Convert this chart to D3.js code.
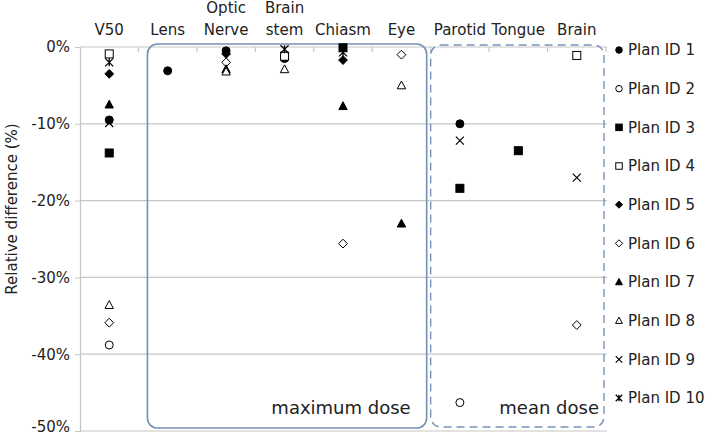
<!DOCTYPE html>
<meta charset="utf-8">
<script src="https://d3js.org/d3.v7.min.js"></script>
<style>
  body { margin: 0; background: #fff; }
  text { font-family: "DejaVu Sans", Verdana, sans-serif; fill: #222; }
</style>
<div id="my_dataviz"></div>
<script>

  // categories along the top
  var categories = ["V50", "Lens", "Optic Nerve", "Brain stem", "Chiasm", "Eye", "Parotid", "Tongue", "Brain"];
  var plans = ["Plan ID 1", "Plan ID 2", "Plan ID 3", "Plan ID 4", "Plan ID 5",
               "Plan ID 6", "Plan ID 7", "Plan ID 8", "Plan ID 9", "Plan ID 10"];
  var yTicks = [0, -0.1, -0.2, -0.3, -0.4, -0.5];

  // relative difference (%) per plan, one value per category (null = no point)
  //            V50    Lens  Optic  Bstem  Chiasm  Eye    Parot  Tong   Brain
  var plan1  = [-9.5, -3.1, -0.5,  -1.5,  null,   null,  -10.0, null,  null];
  var plan2  = [-38.8, null, null,  null,  null,   null,  -46.3, null,  null];
  var plan3  = [-13.8, null, null,  null,  -0.1,   null,  -18.4, -13.5, null];
  var plan4  = [-0.9, null,  null,  -1.2,  null,   null,  null,  null,  -1.1];
  var plan5  = [-3.5, null,  -0.9,  null,  -1.7,   null,  null,  null,  null];
  var plan6  = [-35.9, null, -2.0,  null,  -25.6,  -1.0,  null,  null,  -36.2];
  var plan7  = [-7.5, null,  -2.9,  null,  -7.7,   -23.0, null,  null,  null];
  var plan8  = [-33.6, null, -3.2,  -2.9,  null,   -5.0,  null,  null,  null];
  var plan9  = [-9.9, null,  null,  null,  null,   null,  -12.2, null,  -17.0];
  var plan10 = [-2.0, null,  null,  -0.3,  -0.7,   null,  null,  null,  null];
  var planValues = [plan1, plan2, plan3, plan4, plan5, plan6, plan7, plan8, plan9, plan10];

  // marker style per plan
  var shapes = ["circle", "circle", "square", "square", "diamond", "diamond", "triangle", "triangle", "cross", "star"];
  var filled = [true, false, true, false, true, false, true, false, true, true];

  var W = 709, H = 436;
  var svg = d3.select("#my_dataviz").append("svg")
    .attr("width", W).attr("height", H);

  var x = d3.scaleBand().domain(categories).range([80, 606]);
  var y = d3.scaleLinear().domain([-0.5, 0]).range([431, 47]);

  // gridlines
  svg.append("g").selectAll("line").data(yTicks).enter().append("line")
    .attr("x1", 80).attr("x2", 607)
    .attr("y1", function (d) { return y(d); }).attr("y2", function (d) { return y(d); })
    .attr("stroke", "#c6c6c6").attr("stroke-width", 1.2);

  // y axis (plain hyphen minus, like the original)
  var yAxis = svg.append("g").attr("transform", "translate(80,0)")
    .call(d3.axisLeft(y).tickValues(yTicks)
      .tickFormat(function (d) { return Math.round(d * 100) + "%"; })
      .tickSize(5).tickPadding(5));
  yAxis.select(".domain").attr("stroke", "#c6c6c6").attr("stroke-width", 1.2);
  yAxis.selectAll(".tick line").attr("stroke", "#c6c6c6");
  yAxis.selectAll("text").attr("font-size", 15).attr("fill", "#222")
    .attr("font-family", "DejaVu Sans");
  // keep the bottom label inside the picture
  yAxis.selectAll(".tick text").filter(function (d) { return d === -0.5; }).attr("dy", "0.05em");

  svg.append("text")
    .attr("transform", "translate(17," + ((y(0) + y(-0.5)) / 2 - 30) + ") rotate(-90)")
    .attr("text-anchor", "middle").attr("font-size", 15)
    .text("Relative difference (%)");

  // top category ticks (band boundaries) hanging from the 0% line
  var bounds = categories.slice(1).map(function (c) { return x(c); }).concat([x.range()[1]]);
  svg.append("g").selectAll("line").data(bounds).enter().append("line")
    .attr("x1", function (d) { return d; }).attr("x2", function (d) { return d; })
    .attr("y1", y(0)).attr("y2", y(0) + 5)
    .attr("stroke", "#c6c6c6").attr("stroke-width", 1.2);

  // category labels
  var lab = svg.append("g").selectAll("text").data(categories).enter().append("text")
    .attr("x", function (d) { return x(d) + x.bandwidth() / 2; })
    .attr("text-anchor", "middle").attr("font-size", 15);
  lab.each(function (d) {
    var parts = d.split(" ");
    var t = d3.select(this);
    if (parts.length === 1) {
      t.append("tspan").attr("x", x(d) + x.bandwidth() / 2).attr("y", 35).text(d);
    } else {
      t.append("tspan").attr("x", x(d) + x.bandwidth() / 2).attr("y", 13).text(parts[0]);
      t.append("tspan").attr("x", x(d) + x.bandwidth() / 2).attr("y", 35).text(parts[1]);
    }
  });

  // group boxes
  var maxL = x("Lens") + 9, maxR = x("Eye") + x.bandwidth() - 4;
  svg.append("rect")
    .attr("x", maxL).attr("y", 44).attr("width", maxR - maxL).attr("height", 384)
    .attr("rx", 10).attr("fill", "none").attr("stroke", "#7590b2").attr("stroke-width", 1.6);
  var meanL = x("Parotid"), meanR = x("Brain") + x.bandwidth() - 2;
  svg.append("rect")
    .attr("x", meanL).attr("y", 45).attr("width", meanR - meanL).attr("height", 382)
    .attr("rx", 10).attr("fill", "none").attr("stroke", "#7894b8").attr("stroke-width", 1.4)
    .attr("stroke-dasharray", "8,5");
  svg.append("text").attr("x", maxR - 16).attr("y", 414).attr("text-anchor", "end")
    .attr("font-size", 18).text("maximum dose");
  svg.append("text").attr("x", meanR - 5).attr("y", 414).attr("text-anchor", "end")
    .attr("font-size", 18).text("mean dose");

  // marker drawing
  function marker(g, i, s) {
    var shape = shapes[i], fill = filled[i] ? "#000" : "#fff";
    var r = s / 2, el;
    var xPath = "M" + (-r) + "," + (-r) + "L" + r + "," + r + "M" + r + "," + (-r) + "L" + (-r) + "," + r;
    if (shape === "circle") {
      el = g.append("circle").attr("r", r);
    } else if (shape === "square") {
      el = g.append("rect").attr("x", -r).attr("y", -r).attr("width", s).attr("height", s);
    } else if (shape === "diamond") {
      el = g.append("path").attr("d", "M0," + (-r * 1.1) + "L" + (r * 1.1) + ",0L0," + (r * 1.1) + "L" + (-r * 1.1) + ",0Z");
    } else if (shape === "triangle") {
      el = g.append("path").attr("d", "M0," + (-r * 1.1) + "L" + (r * 1.05) + "," + (r * 0.85) + "L" + (-r * 1.05) + "," + (r * 0.85) + "Z");
    } else if (shape === "cross") {
      g.append("path").attr("d", xPath)
        .attr("stroke", "#000").attr("stroke-width", 1.2).attr("fill", "none");
      return;
    } else {
      // star: x with a vertical stroke through it
      g.append("path").attr("d", xPath + "M0," + (-r) + "L0," + r)
        .attr("stroke", "#000").attr("stroke-width", 1.3).attr("fill", "none");
      return;
    }
    el.attr("fill", fill).attr("stroke", "#000").attr("stroke-width", 1);
  }

  // points
  planValues.forEach(function (vals, i) {
    vals.forEach(function (v, j) {
      if (v === null) return;
      var g = svg.append("g")
        .attr("transform", "translate(" + (x(categories[j]) + x.bandwidth() / 2) + "," + y(v / 100) + ")");
      marker(g, i, 8);
    });
  });

  // legend
  var ly = d3.scalePoint().domain(plans).range([50, 398]);
  plans.forEach(function (p, i) {
    var g = svg.append("g").attr("transform", "translate(619," + ly(p) + ")");
    marker(g, i, 6.5);
    svg.append("text").attr("x", 628).attr("y", ly(p)).attr("dy", "0.36em")
      .attr("font-size", 15).text(p);
  });

</script>
